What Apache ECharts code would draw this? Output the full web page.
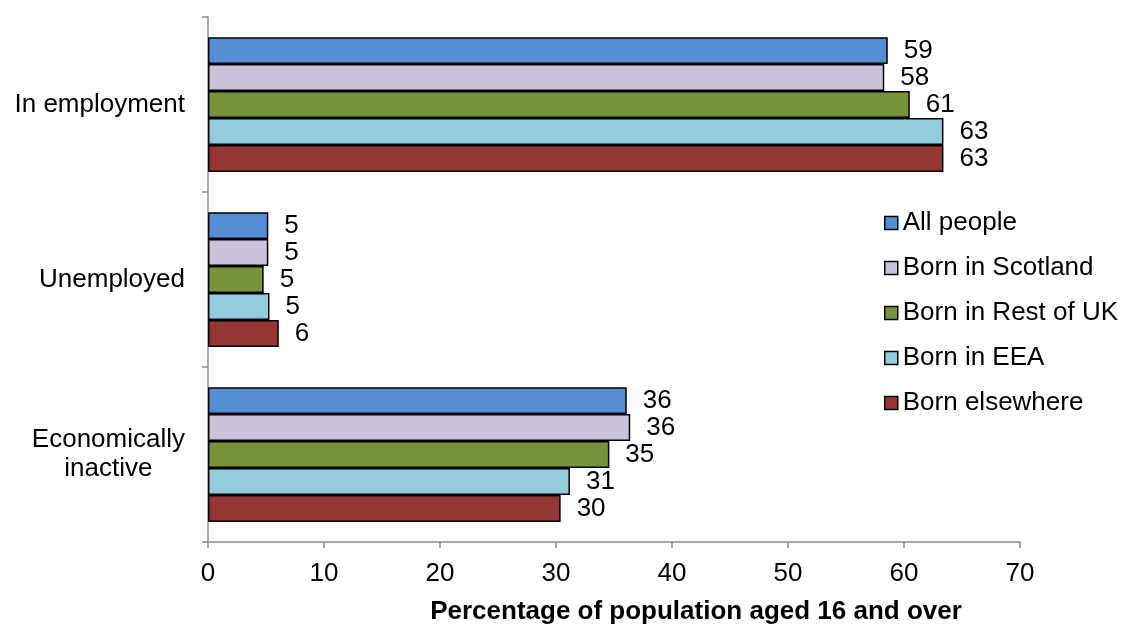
<!DOCTYPE html>
<html>
<head>
<meta charset="utf-8">
<script src="https://cdn.jsdelivr.net/npm/echarts@6/dist/echarts.min.js"></script>
<style>
  html, body { margin: 0; padding: 0; background: #fff; }
  #chart { width: 1127px; height: 626px; }
</style>
</head>
<body>
<div id="chart"></div>
<script>
var categories = ['In employment', 'Unemployed', 'Economically\ninactive'];
var seriesNames = ['All people', 'Born in Scotland', 'Born in Rest of UK', 'Born in EEA', 'Born elsewhere'];
var allPeople = [58.6, 5.2, 36.1];
var bornScotland = [58.3, 5.2, 36.4];
var bornRestUK = [60.5, 4.8, 34.6];
var bornEEA = [63.4, 5.3, 31.2];
var bornElsewhere = [63.4, 6.1, 30.4];
var xTicks = [0, 10, 20, 30, 40, 50, 60, 70];
var colors = ['#558ED5', '#CCC1DA', '#77933C', '#93CDDD', '#953735'];

var font = 'Liberation Sans, Arial, sans-serif';
var chart = echarts.init(document.getElementById('chart'));

var values = [allPeople, bornScotland, bornRestUK, bornEEA, bornElsewhere];

function makeSeries(i) {
  return {
    name: seriesNames[i],
    type: 'bar',
    data: values[i],
    barGap: '0%',
    barCategoryGap: '23%',
    itemStyle: {
      color: colors[i],
      borderColor: '#000',
      borderWidth: 1.5
    },
    label: {
      show: true,
      position: 'right',
      distance: 16,
      fontFamily: font,
      fontSize: 26,
      color: '#000',
      formatter: function (p) { return Math.round(p.value); }
    }
  };
}

var series = [];
for (var i = 0; i < seriesNames.length; i++) {
  series.push(makeSeries(i));
}

chart.setOption({
  animation: false,
  textStyle: { fontFamily: font },
  grid: {
    left: 208,
    right: 107,
    top: 17,
    bottom: 84,
    outerBoundsMode: 'none'
  },
  legend: {
    orient: 'vertical',
    left: 884,
    top: 210,
    padding: 0,
    icon: 'rect',
    itemWidth: 13,
    itemHeight: 13,
    itemGap: 19,
    data: seriesNames,
    itemStyle: { borderColor: '#000', borderWidth: 1.5 },
    textStyle: { fontFamily: font, fontSize: 26, color: '#000' }
  },
  xAxis: {
    type: 'value',
    min: xTicks[0],
    max: xTicks[xTicks.length - 1],
    interval: 10,
    name: 'Percentage of population aged 16 and over',
    nameLocation: 'middle',
    nameGap: 57,
    nameTextStyle: {
      fontFamily: font, fontSize: 26, fontWeight: 'bold', color: '#000',
      padding: [0, 0, 0, 164]
    },
    axisLine: { show: true, lineStyle: { color: '#8c8c8c', width: 1.5 } },
    axisTick: { show: true, length: 6, lineStyle: { color: '#8c8c8c', width: 1.5 } },
    axisLabel: { fontFamily: font, fontSize: 26, color: '#000', margin: 19 },
    splitLine: { show: false }
  },
  yAxis: {
    type: 'category',
    data: categories,
    inverse: true,
    axisLine: { show: true, lineStyle: { color: '#8c8c8c', width: 1.5 } },
    axisTick: { show: true, length: 6, lineStyle: { color: '#8c8c8c', width: 1.5 } },
    axisLabel: {
      fontFamily: font,
      fontSize: 26,
      color: '#000',
      margin: 23,
      formatter: function (v) {
        return v.split('\n').map(function (s) { return '{c|' + s + '}'; }).join('\n');
      },
      rich: {
        c: { fontFamily: font, fontSize: 26, color: '#000', align: 'center', lineHeight: 29 }
      }
    }
  },
  series: series
});
</script>
</body>
</html>
